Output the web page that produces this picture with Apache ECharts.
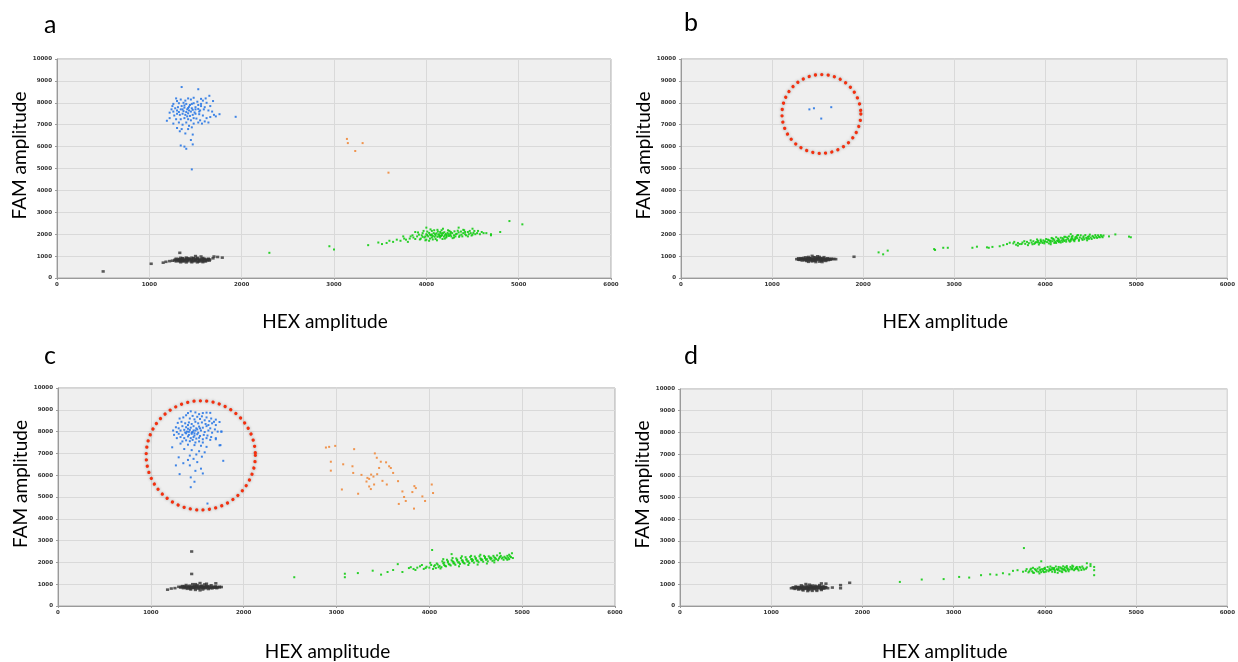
<!DOCTYPE html>
<html><head><meta charset="utf-8">
<script src="https://cdn.jsdelivr.net/npm/echarts@6/dist/echarts.min.js"></script>
<style>html,body{margin:0;padding:0;background:#fff}#c{width:1238px;height:662px}</style>
</head><body><div id="c"></div>
<script>
// ---- data (HEX amplitude, FAM amplitude) ----
const panelLetters = ['a','b','c','d'];
const xTitle = 'HEX amplitude';
const yTitle = 'FAM amplitude';

const aBlue = [[1350,8720],[1530,8620],[1650,8320],[1610,8200],[1560,8180],[1480,8230],[1450,8150],[1420,8200],[1390,8100],[1340,8150],[1290,8200],[1300,8080],[1260,7950],[1320,7980],[1370,8000],[1400,7950],[1440,7900],[1480,7980],[1520,8050],[1580,8100],[1620,8000],[1690,8080],[1660,7850],[1600,7800],[1560,7850],[1530,7900],[1500,7800],[1460,7750],[1430,7820],[1410,7700],[1380,7780],[1350,7850],[1310,7800],[1280,7750],[1240,7700],[1220,7550],[1260,7600],[1300,7650],[1340,7700],[1370,7620],[1400,7580],[1430,7650],[1450,7600],[1470,7680],[1500,7700],[1530,7720],[1550,7650],[1590,7700],[1640,7650],[1680,7600],[1700,7450],[1760,7480],[1935,7360],[1190,7180],[1220,7300],[1270,7420],[1300,7500],[1330,7450],[1360,7500],[1390,7450],[1420,7520],[1440,7400],[1470,7450],[1500,7500],[1540,7480],[1580,7420],[1620,7300],[1660,7350],[1720,7380],[1600,7150],[1550,7200],[1510,7280],[1480,7300],[1450,7200],[1420,7250],[1380,7300],[1340,7250],[1290,7250],[1260,7050],[1320,7100],[1360,7000],[1400,7100],[1430,6950],[1480,7050],[1530,7100],[1570,7050],[1640,7100],[1300,6850],[1350,6800],[1420,6800],[1460,6880],[1330,6700],[1390,6600],[1470,6550],[1450,6300],[1470,6100],[1340,6050],[1380,6000],[1400,5900],[1460,4960],[1250,7850],[1380,7880],[1460,7950],[1540,7600],[1410,7380],[1360,7700],[1420,7760],[1490,7560],[1320,7580],[1560,7950]];
const aBlack = [[1340,920],[1400,930],[1460,925],[1520,920],[1580,910],[1290,880],[1320,870],[1360,885],[1400,880],[1440,875],[1480,885],[1520,880],[1560,870],[1600,875],[1640,880],[1280,840],[1310,835],[1350,845],[1380,840],[1420,838],[1460,842],[1500,836],[1540,845],[1580,840],[1620,835],[1655,845],[1275,800],[1310,805],[1345,798],[1380,802],[1420,800],[1460,805],[1500,798],[1540,802],[1580,800],[1620,805],[1650,795],[1290,760],[1330,765],[1370,758],[1410,762],[1450,760],[1490,765],[1530,758],[1570,762],[1610,760],[1340,720],[1400,715],[1460,720],[1520,718],[1580,725],[1300,820],[1330,850],[1360,780],[1390,820],[1430,860],[1470,780],[1510,860],[1550,820],[1590,860],[1630,820],[1360,900],[1420,900],[1480,900],[1540,760],[1600,780],[1320,780],[1640,850],[1330,1150],[1500,1000],[1560,980],[1700,980],[1740,960],[1790,930],[1180,740],[1150,700],[1220,770],[1250,790],[1020,650],[500,300],[1690,900]];
const aGreen = [[3900,1900],[3950,1950],[3980,1850],[4000,2000],[4020,1900],[4050,1950],[4060,1850],[4080,2050],[4100,1950],[4120,1880],[4140,2000],[4160,1920],[4180,2050],[4200,1950],[4220,1900],[4240,2000],[4260,1960],[4280,2050],[4300,1950],[4320,2000],[4350,2080],[4380,1980],[4400,2050],[4420,2000],[4450,2100],[4480,2050],[4500,1980],[4520,2150],[4040,1800],[4100,1780],[3940,1800],[3860,1850],[3850,1950],[3820,1800],[3780,1750],[3750,1900],[3720,1700],[3680,1750],[3640,1650],[3600,1700],[4000,1750],[4150,2100],[4250,2150],[4300,1850],[4200,1800],[4060,2150],[3960,2050],[3880,2100],[4400,2200],[4500,2250],[4600,2100],[4650,2050],[4700,2000],[4550,2050],[4120,2200],[4180,2250],[4350,2300],[4000,2300],[4450,1900],[4150,1850],[4070,1920],[4130,1980],[4210,2010],[4010,1960],[3990,1900],[4090,1880],[4170,1960],[4230,2060],[4330,2020],[4270,1900],[3920,1980],[4030,2060],[4110,2040],[4190,1890],[4360,1940],[4420,2100],[3910,2080],[3930,1760],[3970,2150],[3990,1720],[4010,2120],[4030,1700],[4045,2220],[4070,1760],[4085,2180],[4095,2000],[4115,1720],[4125,2120],[4145,1920],[4165,2180],[4175,1780],[4195,2090],[4215,1850],[4235,2180],[4245,1920],[4265,2100],[4285,1820],[4305,2130],[4315,1900],[4340,2160],[4355,1880],[4375,2120],[4390,1900],[4410,2180],[4430,1950],[4460,2000],[4470,2150],[4490,1940],[4510,2060],[4530,2000],[4560,2150],[4580,2000],[4620,2050],[4040,1980],[4160,2040],[4260,2030],[4060,1990],[4140,1900],[4220,1960],[3960,1880],[3880,1780],[3830,1900],[3800,1650],[3760,1800],[3370,1500],[3480,1620],[3520,1550],[3570,1600],[2950,1450],[3000,1300],[2300,1150],[4900,2600],[5040,2450],[4800,2100],[4700,1950]];
const aOrange = [[3140,6350],[3150,6160],[3230,5800],[3310,6160],[3590,4810]];

const bBlue = [[1410,7700],[1460,7750],[1650,7800],[1540,7280]];
const bBlack = [[1270,860],[1290,900],[1300,830],[1320,880],[1330,800],[1350,920],[1360,850],[1380,780],[1390,890],[1400,960],[1410,830],[1430,900],[1440,760],[1450,860],[1470,940],[1480,800],[1490,880],[1500,990],[1510,840],[1520,750],[1530,910],[1540,860],[1560,800],[1570,950],[1580,880],[1600,830],[1610,900],[1630,860],[1650,880],[1680,870],[1700,860],[1340,870],[1370,940],[1420,870],[1460,820],[1500,920],[1550,900],[1590,780],[1620,820],[1440,1010],[1480,730],[1400,740],[1550,730],[1310,860],[1350,850],[1380,860],[1410,900],[1440,840],[1470,870],[1500,860],[1530,820],[1560,870],[1590,860],[1640,840],[1360,810],[1460,950],[1520,960],[1420,800],[1290,840],[1330,860],[1390,820],[1430,870],[1470,810],[1510,890],[1550,840],[1580,820],[1620,870],[1660,860],[1320,900],[1450,790],[1540,800],[1400,900],[1480,840],[1900,970]];
const bGreen = [[2790,1280],[2880,1380],[2930,1380],[2170,1170],[2220,1080],[2270,1250],[2780,1320],[3200,1380],[3250,1430],[3360,1400],[3420,1420],[3380,1380],[3540,1500],[3610,1610],[3500,1450],[3580,1550],[3650,1580],[3680,1520],[3700,1600],[3720,1550],[3750,1620],[3780,1560],[3800,1650],[3820,1590],[3850,1620],[3870,1680],[3880,1560],[3900,1640],[3920,1700],[3940,1600],[3960,1660],[3980,1720],[3990,1580],[4000,1680],[4020,1640],[4030,1750],[4050,1700],[4060,1620],[4080,1680],[4090,1780],[4100,1720],[4110,1650],[4130,1700],[4140,1800],[4150,1750],[4160,1680],[4180,1720],[4190,1820],[4200,1770],[4210,1690],[4230,1740],[4240,1850],[4250,1790],[4260,1710],[4280,1760],[4290,1870],[4300,1810],[4310,1730],[4330,1780],[4340,1880],[4350,1820],[4370,1750],[4380,1850],[4400,1800],[4420,1900],[4430,1770],[4450,1840],[4470,1880],[4480,1790],[4500,1850],[4520,1920],[4540,1830],[4560,1880],[4580,1950],[4600,1860],[4620,1900],[4640,1940],[4040,1580],[4120,1600],[4270,1660],[3950,1750],[4070,1830],[4220,1880],[4170,1620],[4320,1680],[4460,1720],[4360,1960],[4280,2000],[3660,1650],[3700,1480],[3740,1550],[3770,1680],[3810,1500],[3840,1720],[3860,1540],[3890,1600],[3910,1760],[3930,1530],[3950,1690],[3970,1600],[4010,1780],[4040,1720],[4060,1540],[4080,1800],[4100,1600],[4120,1860],[4150,1640],[4170,1840],[4190,1650],[4210,1880],[4230,1660],[4260,1900],[4280,1700],[4300,1920],[4320,1740],[4350,1940],[4370,1700],[4390,1950],[4410,1740],[4440,1960],[4460,1800],[4490,1980],[4510,1780],[4530,1870],[4550,1960],[4570,1830],[4590,1880],[4610,1960],[4630,1860],[3990,1650],[4140,1700],[4290,1780],[4420,1840],[4200,1740],[4060,1700],[3920,1630],[4330,1850],[4480,1900],[4770,1990],[4920,1890],[4940,1860],[4700,1900]];

const cBlue = [[1430,8930],[1400,8850],[1480,8880],[1520,8800],[1560,8850],[1600,8870],[1640,8860],[1380,8750],[1450,8720],[1500,8680],[1550,8700],[1600,8650],[1650,8600],[1700,8550],[1350,8650],[1310,8600],[1420,8600],[1470,8560],[1530,8580],[1580,8520],[1630,8480],[1680,8450],[1740,8440],[1290,8400],[1330,8450],[1370,8380],[1410,8420],[1440,8350],[1480,8450],[1510,8380],[1550,8420],[1590,8350],[1620,8300],[1660,8380],[1700,8300],[1270,8200],[1300,8150],[1340,8250],[1380,8200],[1400,8300],[1430,8180],[1460,8250],[1490,8150],[1520,8230],[1560,8180],[1600,8250],[1640,8150],[1690,8100],[1720,8000],[1760,8000],[1240,8050],[1280,7980],[1320,8050],[1360,8080],[1390,8000],[1420,8080],[1450,7980],[1480,8050],[1510,7950],[1540,8050],[1580,7980],[1620,8050],[1660,7950],[1250,7850],[1300,7900],[1340,7850],[1380,7920],[1410,7850],[1440,7900],[1470,7820],[1500,7880],[1530,7800],[1570,7850],[1610,7820],[1650,7750],[1700,7700],[1280,7700],[1320,7750],[1360,7700],[1400,7780],[1430,7700],[1460,7750],[1490,7680],[1520,7720],[1560,7650],[1600,7700],[1640,7620],[1750,7380],[1230,7280],[1340,7550],[1380,7600],[1420,7560],[1450,7620],[1480,7500],[1520,7550],[1560,7500],[1320,7450],[1400,7400],[1470,7380],[1540,7350],[1600,7300],[1360,7200],[1440,7150],[1520,7100],[1580,7050],[1490,6950],[1420,6900],[1550,6850],[1300,6820],[1460,6750],[1400,6700],[1500,6600],[1350,6550],[1420,6450],[1270,6450],[1540,6300],[1480,6200],[1310,6050],[1560,6080],[1430,5900],[1470,5700],[1430,5450],[1610,4700],[1780,6660],[1760,8000],[1740,7370],[1700,7650],[1460,8050],[1400,8130],[1500,8100],[1440,7960],[1370,7960],[1530,8150],[1410,7990],[1470,7920]];
const cBlack = [[1300,880],[1320,850],[1340,910],[1350,820],[1370,880],[1380,960],[1390,790],[1400,860],[1420,930],[1430,760],[1440,890],[1450,1000],[1460,830],[1470,920],[1480,740],[1490,870],[1500,960],[1510,800],[1520,900],[1530,1050],[1540,840],[1550,930],[1560,760],[1570,880],[1580,990],[1590,820],[1600,910],[1610,850],[1620,780],[1630,900],[1640,830],[1650,950],[1660,870],[1680,840],[1700,900],[1720,860],[1740,880],[1760,870],[1360,860],[1410,850],[1460,880],[1510,860],[1560,850],[1610,890],[1660,810],[1530,720],[1600,1020],[1420,800],[1480,810],[1540,900],[1480,1000],[1580,860],[1430,860],[1690,870],[1710,820],[1330,880],[1380,840],[1400,900],[1450,850],[1490,910],[1520,830],[1550,880],[1590,880],[1630,850],[1670,880],[1700,850],[1740,860],[1470,850],[1430,820],[1570,820],[1360,900],[1440,2500],[1440,1470],[1180,750],[1220,800],[1260,820],[1700,1040]];
const cGreen = [[2545,1320],[3090,1480],[3090,1320],[3230,1510],[3390,1620],[3480,1440],[3550,1560],[3610,1650],[3660,1920],[3710,1560],[3780,1740],[3850,1650],[3920,1880],[3960,1740],[4030,2570],[3800,1780],[3830,1700],[3870,1760],[3900,1820],[3940,1700],[3970,1800],[4000,1760],[4020,1880],[4050,1820],[4070,1740],[4090,1900],[4110,1840],[4130,1780],[4150,1960],[4160,1880],[4180,1820],[4200,2000],[4210,1920],[4230,1860],[4250,2050],[4260,1960],[4280,1890],[4300,2080],[4310,2000],[4330,1930],[4350,2100],[4360,2020],[4380,1950],[4400,2120],[4410,2040],[4430,1970],[4450,2150],[4460,2060],[4480,1990],[4500,2160],[4510,2080],[4530,2010],[4550,2180],[4560,2100],[4580,2030],[4600,2200],[4610,2120],[4630,2050],[4650,2210],[4660,2140],[4680,2070],[4700,2230],[4720,2150],[4740,2100],[4760,2250],[4780,2180],[4800,2120],[4820,2200],[4840,2300],[4860,2150],[4880,2240],[4350,2280],[4450,2300],[4550,2350],[4250,2200],[4150,2150],[4420,1880],[4520,1900],[4620,1950],[4320,1820],[4120,1720],[4700,2000],[4010,1980],[4040,1700],[4080,1950],[4100,1780],[4140,2050],[4170,1840],[4190,2120],[4220,1900],[4240,2100],[4270,1950],[4290,2180],[4320,2000],[4340,2200],[4370,1980],[4390,2240],[4420,2050],[4440,2250],[4470,2100],[4490,2270],[4520,2080],[4540,2280],[4570,2120],[4590,2300],[4620,2150],[4640,2280],[4670,2180],[4690,2300],[4710,2200],[4730,2320],[4750,2180],[4770,2300],[4790,2220],[4810,2260],[4830,2180],[4850,2220],[4870,2280],[4900,2200],[4200,2050],[4300,2120],[4400,2150],[4500,2200],[4600,2250],[4700,2100],[4460,2150],[4360,2080],[4260,2020],[4560,2150],[4660,2220],[4160,1990],[4060,1870],[4760,2420],[4890,2420],[4860,2350],[4840,2120],[4240,2380]];
const cOrange = [[2886,7270],[2921,7300],[2986,7345],[3190,7195],[3413,7000],[3434,6800],[3477,6618],[3534,6590],[3567,6409],[3585,6332],[3459,6332],[3610,6104],[2939,6618],[2939,6209],[3072,6500],[3172,6409],[3180,6104],[3269,6014],[3373,6027],[3438,6045],[3398,5936],[3333,5877],[3352,5832],[3323,5709],[3495,5741],[3405,5573],[3542,5573],[3352,5482],[3370,5364],[3058,5345],[3233,5150],[3663,5727],[3839,5500],[3854,5409],[3817,5227],[3710,5255],[3728,5000],[3746,4818],[3671,4682],[3835,4468],[3925,5027],[3954,4818],[4026,5573],[4040,5182]];

const dBlack = [[1220,820],[1240,860],[1260,790],[1270,900],[1290,830],[1300,760],[1310,880],[1330,950],[1340,810],[1350,720],[1360,870],[1380,790],[1390,920],[1400,850],[1410,740],[1420,980],[1430,820],[1440,890],[1450,700],[1460,860],[1470,780],[1480,930],[1490,830],[1500,760],[1510,900],[1520,820],[1530,960],[1540,870],[1550,740],[1560,830],[1570,900],[1580,800],[1600,860],[1620,820],[1280,860],[1320,840],[1370,830],[1420,870],[1470,850],[1520,860],[1570,850],[1350,900],[1450,940],[1500,700],[1400,690],[1600,1030],[1380,1010],[1340,760],[1440,770],[1550,790],[1260,840],[1490,880],[1400,800],[1300,820],[1590,880],[1250,820],[1290,860],[1330,870],[1360,800],[1390,860],[1410,810],[1450,830],[1480,880],[1510,840],[1540,830],[1560,880],[1590,840],[1430,900],[1310,800],[1470,810],[1530,890],[1670,850],[1760,960],[1760,820],[1860,1070],[1550,1040]];
const dGreen = [[2410,1110],[2650,1220],[2890,1240],[3060,1340],[3170,1310],[3300,1420],[3400,1460],[3470,1440],[3540,1510],[3610,1460],[3650,1620],[3700,1650],[3760,1580],[3790,1620],[3820,1550],[3840,1680],[3860,1600],[3880,1530],[3900,1660],[3920,1720],[3930,1580],[3950,1640],[3970,1700],[3990,1560],[4000,1760],[4020,1650],[4040,1600],[4050,1720],[4070,1680],[4080,1580],[4100,1750],[4110,1640],[4130,1700],[4150,1800],[4160,1620],[4180,1730],[4200,1670],[4220,1780],[4230,1600],[4250,1720],[4270,1680],[4280,1800],[4300,1740],[4320,1650],[4340,1760],[4360,1700],[4380,1800],[4400,1660],[4420,1740],[4460,1780],[4500,1840],[3940,1500],[4060,1820],[4190,1560],[4300,1860],[3870,1760],[4140,1530],[4240,1840],[3980,1620],[4090,1700],[4210,1700],[3850,1720],[3870,1540],[3890,1700],[3910,1600],[3940,1780],[3960,1560],[3990,1720],[4010,1580],[4030,1800],[4060,1660],[4080,1760],[4110,1560],[4120,1820],[4140,1660],[4170,1780],[4180,1600],[4200,1830],[4220,1650],[4240,1760],[4260,1600],[4290,1720],[4310,1820],[4330,1700],[4350,1800],[4370,1640],[4390,1760],[4410,1820],[4430,1680],[4450,1720],[3800,1700],[3830,1600],[4050,1650],[4150,1710],[4250,1670],[4000,1700],[4100,1690],[4190,1720],[4300,1690],[4350,1730],[3950,1680],[3770,2670],[3960,2060],[4540,1800],[4540,1650],[4540,1420],[4500,1930],[4460,1970]];

// highlighted regions (data units: centre HEX, centre FAM, radius in HEX units)
const circles = [{grid:1, x:1542, y:7490, r:433}, {grid:2, x:1538, y:6910, r:588}];

// ---- chart ----
const COLORS = {blue:'#2a78e4', black:'#333333', green:'#14cc14', orange:'#f08a3c'};
const grids = [
  {left:57, top:59, width:554, height:219},
  {left:681, top:59, width:553, height:219},
  {left:58, top:388, width:557, height:220},
  {left:680, top:389, width:554, height:219}
];
const yNameGap = [26, 22, 27, 21];
const xNameGap = [34, 34, 36, 36];
const panels = [
  [['blue',aBlue],['black',aBlack],['green',aGreen],['orange',aOrange]],
  [['blue',bBlue],['black',bBlack],['green',bGreen]],
  [['blue',cBlue],['black',cBlack],['green',cGreen],['orange',cOrange]],
  [['black',dBlack],['green',dGreen]]
];
const plain = v => String(v);
const tickFont = {fontSize:5.5, fontWeight:'bold', color:'#333', fontFamily:'DejaVu Sans', formatter:plain};
const titleFont = {fontSize:19, color:'#000', fontFamily:'Lato'};

const xAxes = grids.map((g,i)=>({gridIndex:i, type:'value', min:0, max:6000, interval:1000,
  name:xTitle, nameLocation:'middle', nameGap:xNameGap[i], nameTextStyle:Object.assign({padding:[0,18,0,0]}, titleFont),
  axisLine:{show:true, lineStyle:{color:'#9a9a9a'}}, axisTick:{show:true, length:2, lineStyle:{color:'#9a9a9a'}},
  axisLabel:Object.assign({margin:4}, tickFont), splitLine:{show:true, lineStyle:{color:'#d9d9d9'}}}));
const yAxes = grids.map((g,i)=>({gridIndex:i, type:'value', min:0, max:10000, interval:1000,
  name:yTitle, nameLocation:'middle', nameGap:yNameGap[i], nameRotate:90, nameTextStyle:Object.assign({padding:[0,0,0,26]}, titleFont),
  axisLine:{show:true, lineStyle:{color:'#9a9a9a'}}, axisTick:{show:true, length:2, lineStyle:{color:'#9a9a9a'}},
  axisLabel:Object.assign({margin:5}, tickFont), splitLine:{show:true, lineStyle:{color:'#d9d9d9'}}}));

const series = [];
panels.forEach((p,i)=>{
  p.forEach(([c,data])=>{
    series.push({type:'scatter', xAxisIndex:i, yAxisIndex:i, data:data, symbol:'rect',
      symbolSize: c==='black' ? [3.2,2.6] : 2, silent:true,
      itemStyle:{color:COLORS[c], opacity: c==='black'?0.8:0.9}});
  });
});

const letterPos = [[44,12],[684,10],[44,343],[684,343]];
const letters = () => panelLetters.map((t,i)=>({type:'text', left:letterPos[i][0], top:letterPos[i][1],
    style:{text:t, fontSize:25, fontFamily:'Lato', fill:'#000'}}));
const chart = echarts.init(document.getElementById('c'), null, {renderer:'canvas'});
chart.setOption({
  animation:false,
  backgroundColor:'#ffffff',
  grid: grids.map(g=>Object.assign({show:true, backgroundColor:'#efefef', borderColor:'#a8a8a8', borderWidth:1}, g)),
  xAxis:xAxes, yAxis:yAxes, series:series,
  graphic: letters()
});

const circleEls = circles.map(c=>{
  const p = chart.convertToPixel({gridIndex:c.grid}, [c.x, c.y]);
  const q = chart.convertToPixel({gridIndex:c.grid}, [c.x + c.r, c.y]);
  return {type:'circle', z:100, shape:{cx:p[0], cy:p[1], r:q[0]-p[0]},
    style:{fill:null, stroke:'#f3300f', lineWidth:3.3, lineDash:[0.01,6.4], lineCap:'round',
      shadowBlur:3, shadowColor:'rgba(0,0,0,0.35)'}};
});
chart.setOption({graphic: letters().concat(circleEls)});
</script></body></html>
